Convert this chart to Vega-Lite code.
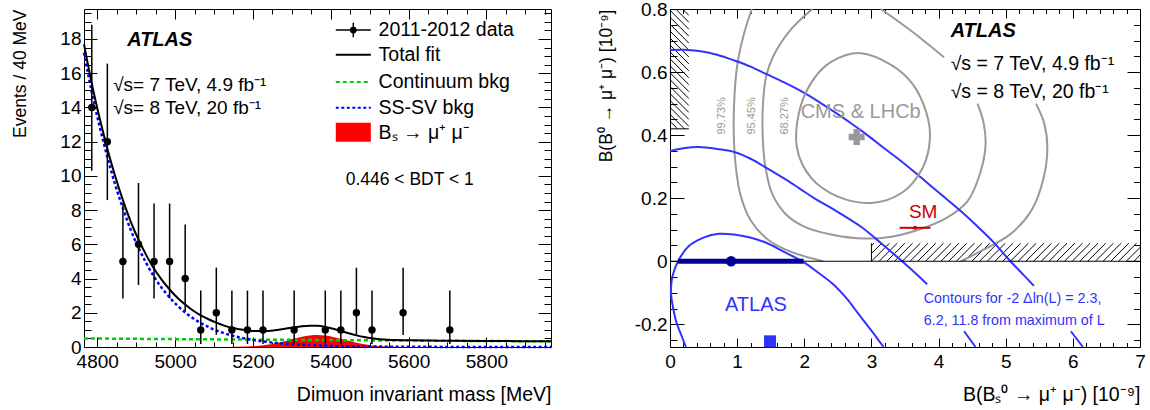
{
"$schema": "https://vega.github.io/schema/vega-lite/v6.json",
"padding": {"left": 11, "top": -1, "right": 5, "bottom": 5},
"background": "white",
"bounds": "flush",
"spacing": 119,
"config": {
  "font": "Liberation Sans",
  "view": {"stroke": "#000000", "strokeWidth": 1},
  "axis": {"domain": false, "grid": false, "ticks": true, "labelFont": "Liberation Sans", "titleFont": "Liberation Sans", "labelColor": "#000", "titleColor": "#000", "tickColor": "#000", "tickWidth": 1, "labelFontSize": 19, "titleFontSize": 19.5, "titleFontWeight": "normal", "labelFlush": false, "labelOverlap": false}
},
"datasets": {
  "fit": [
    {"mass":4766,"cont":0.5,"sssv":17.2,"signal":0,"total":17.7},
    {"mass":4786,"cont":0.497,"sssv":14.9,"signal":0,"total":15.4},
    {"mass":4806,"cont":0.493,"sssv":12.9,"signal":0,"total":13.39},
    {"mass":4826,"cont":0.49,"sssv":11.1,"signal":0,"total":11.59},
    {"mass":4846,"cont":0.486,"sssv":9.5,"signal":0,"total":9.99},
    {"mass":4866,"cont":0.483,"sssv":8.1,"signal":0,"total":8.58},
    {"mass":4886,"cont":0.48,"sssv":6.85,"signal":0,"total":7.33},
    {"mass":4906,"cont":0.476,"sssv":5.8,"signal":0,"total":6.28},
    {"mass":4926,"cont":0.473,"sssv":4.9,"signal":0,"total":5.37},
    {"mass":4946,"cont":0.47,"sssv":4.1,"signal":0,"total":4.57},
    {"mass":4966,"cont":0.467,"sssv":3.45,"signal":0,"total":3.92},
    {"mass":4986,"cont":0.463,"sssv":2.9,"signal":0,"total":3.36},
    {"mass":5006,"cont":0.46,"sssv":2.42,"signal":0,"total":2.88},
    {"mass":5026,"cont":0.457,"sssv":2.02,"signal":0,"total":2.48},
    {"mass":5046,"cont":0.454,"sssv":1.68,"signal":0,"total":2.13},
    {"mass":5066,"cont":0.451,"sssv":1.4,"signal":0,"total":1.85},
    {"mass":5086,"cont":0.448,"sssv":1.17,"signal":0,"total":1.62},
    {"mass":5106,"cont":0.445,"sssv":0.97,"signal":0,"total":1.42},
    {"mass":5126,"cont":0.442,"sssv":0.81,"signal":0,"total":1.25},
    {"mass":5146,"cont":0.439,"sssv":0.67,"signal":0.005,"total":1.12},
    {"mass":5166,"cont":0.436,"sssv":0.56,"signal":0.015,"total":1.04},
    {"mass":5186,"cont":0.433,"sssv":0.47,"signal":0.027,"total":0.97},
    {"mass":5206,"cont":0.43,"sssv":0.39,"signal":0.053,"total":0.93},
    {"mass":5226,"cont":0.427,"sssv":0.33,"signal":0.098,"total":0.935},
    {"mass":5246,"cont":0.424,"sssv":0.27,"signal":0.165,"total":0.95},
    {"mass":5266,"cont":0.421,"sssv":0.23,"signal":0.258,"total":1.01},
    {"mass":5286,"cont":0.418,"sssv":0.19,"signal":0.37,"total":1.08},
    {"mass":5306,"cont":0.415,"sssv":0.16,"signal":0.491,"total":1.156},
    {"mass":5326,"cont":0.413,"sssv":0.135,"signal":0.599,"total":1.217},
    {"mass":5346,"cont":0.41,"sssv":0.113,"signal":0.675,"total":1.248},
    {"mass":5366,"cont":0.407,"sssv":0.095,"signal":0.7,"total":1.237},
    {"mass":5386,"cont":0.404,"sssv":0.08,"signal":0.669,"total":1.173},
    {"mass":5406,"cont":0.401,"sssv":0.067,"signal":0.59,"total":1.068},
    {"mass":5426,"cont":0.398,"sssv":0.056,"signal":0.479,"total":0.933},
    {"mass":5446,"cont":0.396,"sssv":0.047,"signal":0.358,"total":0.801},
    {"mass":5466,"cont":0.393,"sssv":0.04,"signal":0.247,"total":0.68},
    {"mass":5486,"cont":0.39,"sssv":0.033,"signal":0.157,"total":0.58},
    {"mass":5506,"cont":0.387,"sssv":0.028,"signal":0.092,"total":0.507},
    {"mass":5526,"cont":0.385,"sssv":0.024,"signal":0.05,"total":0.459},
    {"mass":5546,"cont":0.382,"sssv":0.02,"signal":0.025,"total":0.427},
    {"mass":5566,"cont":0.379,"sssv":0.017,"signal":0.011,"total":0.407},
    {"mass":5586,"cont":0.377,"sssv":0.014,"signal":0.005,"total":0.396},
    {"mass":5606,"cont":0.374,"sssv":0.012,"signal":0.002,"total":0.388},
    {"mass":5656,"cont":0.368,"sssv":0.008,"signal":0,"total":0.376},
    {"mass":5706,"cont":0.362,"sssv":0.005,"signal":0,"total":0.367},
    {"mass":5806,"cont":0.35,"sssv":0.002,"signal":0,"total":0.352},
    {"mass":5966,"cont":0.331,"sssv":0.0005,"signal":0,"total":0.332}
  ],
  "obs": [
    {"mass":4786,"n":14,"lo":10.3,"hi":18.83},
    {"mass":4826,"n":12,"lo":8.585,"hi":16.56},
    {"mass":4866,"n":5,"lo":2.84,"hi":8.382},
    {"mass":4906,"n":6,"lo":3.62,"hi":9.584},
    {"mass":4946,"n":5,"lo":2.84,"hi":8.382},
    {"mass":4986,"n":5,"lo":2.84,"hi":8.382},
    {"mass":5026,"n":4,"lo":2.086,"hi":7.163},
    {"mass":5066,"n":1,"lo":0.173,"hi":3.3},
    {"mass":5106,"n":2,"lo":0.708,"hi":4.638},
    {"mass":5146,"n":1,"lo":0.173,"hi":3.3},
    {"mass":5186,"n":1,"lo":0.173,"hi":3.3},
    {"mass":5226,"n":1,"lo":0.173,"hi":3.3},
    {"mass":5306,"n":1,"lo":0.173,"hi":3.3},
    {"mass":5386,"n":1,"lo":0.173,"hi":3.3},
    {"mass":5426,"n":1,"lo":0.173,"hi":3.3},
    {"mass":5466,"n":2,"lo":0.708,"hi":4.638},
    {"mass":5506,"n":1,"lo":0.173,"hi":3.3},
    {"mass":5586,"n":2,"lo":0.708,"hi":4.638},
    {"mass":5706,"n":1,"lo":0.173,"hi":3.3}
  ],
  "cms": [
    {"seg":"g95a","ord":2,"bs":2.12,"bd":0.8},
    {"seg":"g95a","ord":3,"bs":1.78,"bd":0.73},
    {"seg":"g95a","ord":4,"bs":1.53,"bd":0.647},
    {"seg":"g95a","ord":5,"bs":1.43,"bd":0.584},
    {"seg":"g95a","ord":6,"bs":1.385,"bd":0.5},
    {"seg":"g95a","ord":7,"bs":1.38,"bd":0.4},
    {"seg":"g95a","ord":8,"bs":1.42,"bd":0.3},
    {"seg":"g95a","ord":9,"bs":1.52,"bd":0.215},
    {"seg":"g95a","ord":10,"bs":1.72,"bd":0.15},
    {"seg":"g95a","ord":11,"bs":2.0,"bd":0.11},
    {"seg":"g95a","ord":12,"bs":2.4,"bd":0.085},
    {"seg":"g95a","ord":13,"bs":2.9,"bd":0.072},
    {"seg":"g95a","ord":14,"bs":3.3,"bd":0.078},
    {"seg":"g95a","ord":15,"bs":3.7,"bd":0.1},
    {"seg":"g95a","ord":16,"bs":4.1,"bd":0.135},
    {"seg":"g95a","ord":17,"bs":4.43,"bd":0.19},
    {"seg":"g95a","ord":18,"bs":4.62,"bd":0.28},
    {"seg":"g95a","ord":19,"bs":4.7,"bd":0.37},
    {"seg":"g95a","ord":20,"bs":4.67,"bd":0.44},
    {"seg":"g95a","ord":21,"bs":4.58,"bd":0.5},
    {"seg":"g95b","ord":2,"bs":3.14,"bd":0.8},
    {"seg":"g95b","ord":3,"bs":3.59,"bd":0.731},
    {"seg":"g95b","ord":4,"bs":4.08,"bd":0.647},
    {"seg":"g99a","ord":1,"bs":1.22,"bd":0.8},
    {"seg":"g99a","ord":2,"bs":1.1,"bd":0.72},
    {"seg":"g99a","ord":3,"bs":1.0,"bd":0.62},
    {"seg":"g99a","ord":4,"bs":0.955,"bd":0.5},
    {"seg":"g99a","ord":5,"bs":0.95,"bd":0.4},
    {"seg":"g99a","ord":6,"bs":0.98,"bd":0.3},
    {"seg":"g99a","ord":7,"bs":1.05,"bd":0.21},
    {"seg":"g99a","ord":8,"bs":1.2,"bd":0.13},
    {"seg":"g99a","ord":9,"bs":1.45,"bd":0.07},
    {"seg":"g99a","ord":10,"bs":1.8,"bd":0.03},
    {"seg":"g99a","ord":11,"bs":2.28,"bd":0.0},
    {"seg":"g99b","ord":1,"bs":4.33,"bd":0.0},
    {"seg":"g99b","ord":2,"bs":4.63,"bd":0.032},
    {"seg":"g99b","ord":3,"bs":5.07,"bd":0.086},
    {"seg":"g99b","ord":4,"bs":5.38,"bd":0.16},
    {"seg":"g99b","ord":5,"bs":5.56,"bd":0.26},
    {"seg":"g99b","ord":6,"bs":5.62,"bd":0.36},
    {"seg":"g99b","ord":7,"bs":5.57,"bd":0.44},
    {"seg":"g99b","ord":8,"bs":5.45,"bd":0.5}
  ],
  "cms68": [
    {"ord":1,"bs":2.84,"bd":0.66},
    {"ord":2,"bs":3.3,"bd":0.622},
    {"ord":3,"bs":3.62,"bd":0.56},
    {"ord":4,"bs":3.82,"bd":0.47},
    {"ord":5,"bs":3.87,"bd":0.385},
    {"ord":6,"bs":3.76,"bd":0.295},
    {"ord":7,"bs":3.46,"bd":0.218},
    {"ord":8,"bs":3.0,"bd":0.185},
    {"ord":9,"bs":2.5,"bd":0.205},
    {"ord":10,"bs":2.1,"bd":0.265},
    {"ord":11,"bs":1.89,"bd":0.36},
    {"ord":12,"bs":1.92,"bd":0.47},
    {"ord":13,"bs":2.1,"bd":0.565},
    {"ord":14,"bs":2.4,"bd":0.632}
  ],
  "atlas": [
    {"seg":"b1","ord":2,"bs":0.238,"bd":-0.272},
    {"seg":"b1","ord":3,"bs":0.16,"bd":-0.23},
    {"seg":"b1","ord":4,"bs":0.09,"bd":-0.19},
    {"seg":"b1","ord":5,"bs":0.04,"bd":-0.14},
    {"seg":"b1","ord":6,"bs":0.015,"bd":-0.105},
    {"seg":"b1","ord":7,"bs":0.02,"bd":-0.07},
    {"seg":"b1","ord":8,"bs":0.045,"bd":-0.041},
    {"seg":"b1","ord":9,"bs":0.12,"bd":0.0},
    {"seg":"b1","ord":10,"bs":0.28,"bd":0.048},
    {"seg":"b1","ord":11,"bs":0.5,"bd":0.075},
    {"seg":"b1","ord":12,"bs":0.73,"bd":0.087},
    {"seg":"b1","ord":13,"bs":0.95,"bd":0.085},
    {"seg":"b1","ord":14,"bs":1.18,"bd":0.076},
    {"seg":"b1","ord":15,"bs":1.45,"bd":0.057},
    {"seg":"b1","ord":16,"bs":1.68,"bd":0.032},
    {"seg":"b1","ord":17,"bs":1.99,"bd":-0.003},
    {"seg":"b1","ord":18,"bs":2.2,"bd":-0.035},
    {"seg":"b1","ord":19,"bs":2.43,"bd":-0.073},
    {"seg":"b1","ord":20,"bs":2.63,"bd":-0.118},
    {"seg":"b1","ord":21,"bs":2.81,"bd":-0.168},
    {"seg":"b1","ord":22,"bs":3.0,"bd":-0.22},
    {"seg":"b1","ord":23,"bs":3.18,"bd":-0.272},
    {"seg":"b2a","ord":2,"bs":0.0,"bd":0.349},
    {"seg":"b2a","ord":3,"bs":0.2,"bd":0.358},
    {"seg":"b2a","ord":4,"bs":0.43,"bd":0.362},
    {"seg":"b2a","ord":5,"bs":0.7,"bd":0.356},
    {"seg":"b2a","ord":6,"bs":0.98,"bd":0.345},
    {"seg":"b2a","ord":7,"bs":1.2,"bd":0.325},
    {"seg":"b2a","ord":8,"bs":1.43,"bd":0.297},
    {"seg":"b2a","ord":9,"bs":1.68,"bd":0.265},
    {"seg":"b2a","ord":10,"bs":1.92,"bd":0.232},
    {"seg":"b2a","ord":11,"bs":2.17,"bd":0.197},
    {"seg":"b2a","ord":12,"bs":2.43,"bd":0.165},
    {"seg":"b2a","ord":13,"bs":2.84,"bd":0.11},
    {"seg":"b2a","ord":14,"bs":3.14,"bd":0.058},
    {"seg":"b2a","ord":15,"bs":3.44,"bd":0.003},
    {"seg":"b2a","ord":16,"bs":3.64,"bd":-0.035},
    {"seg":"b2a","ord":17,"bs":3.83,"bd":-0.073},
    {"seg":"b2b","ord":1,"bs":4.38,"bd":-0.222},
    {"seg":"b2b","ord":2,"bs":4.55,"bd":-0.272},
    {"seg":"b3a","ord":2,"bs":0.0,"bd":0.67},
    {"seg":"b3a","ord":3,"bs":0.2,"bd":0.671},
    {"seg":"b3a","ord":4,"bs":0.43,"bd":0.667},
    {"seg":"b3a","ord":5,"bs":0.7,"bd":0.655},
    {"seg":"b3a","ord":6,"bs":0.98,"bd":0.635},
    {"seg":"b3a","ord":7,"bs":1.2,"bd":0.617},
    {"seg":"b3a","ord":8,"bs":1.43,"bd":0.594},
    {"seg":"b3a","ord":9,"bs":1.7,"bd":0.567},
    {"seg":"b3a","ord":10,"bs":1.98,"bd":0.536},
    {"seg":"b3a","ord":11,"bs":2.2,"bd":0.508},
    {"seg":"b3a","ord":12,"bs":2.43,"bd":0.476},
    {"seg":"b3a","ord":13,"bs":2.68,"bd":0.44},
    {"seg":"b3a","ord":14,"bs":2.92,"bd":0.403},
    {"seg":"b3a","ord":15,"bs":3.18,"bd":0.36},
    {"seg":"b3a","ord":16,"bs":3.44,"bd":0.318},
    {"seg":"b3a","ord":17,"bs":3.73,"bd":0.267},
    {"seg":"b3a","ord":18,"bs":4.03,"bd":0.213},
    {"seg":"b3a","ord":19,"bs":4.33,"bd":0.159},
    {"seg":"b3a","ord":20,"bs":4.58,"bd":0.11},
    {"seg":"b3a","ord":21,"bs":4.82,"bd":0.06},
    {"seg":"b3a","ord":22,"bs":5.07,"bd":0.0},
    {"seg":"b3a","ord":23,"bs":5.25,"bd":-0.04},
    {"seg":"b3a","ord":24,"bs":5.42,"bd":-0.078},
    {"seg":"b3b","ord":1,"bs":5.97,"bd":-0.222},
    {"seg":"b3b","ord":2,"bs":6.15,"bd":-0.272}
  ],
  "hatch": [
    {"bs":0.187,"bd":0.8,"bs2":0.28,"bd2":0.78},
    {"bs":0.084,"bd":0.8,"bs2":0.28,"bd2":0.758},
    {"bs":0,"bd":0.796,"bs2":0.28,"bd2":0.736},
    {"bs":0,"bd":0.774,"bs2":0.28,"bd2":0.714},
    {"bs":0,"bd":0.752,"bs2":0.28,"bd2":0.692},
    {"bs":0,"bd":0.73,"bs2":0.28,"bd2":0.67},
    {"bs":0,"bd":0.708,"bs2":0.28,"bd2":0.648},
    {"bs":0,"bd":0.686,"bs2":0.28,"bd2":0.626},
    {"bs":0,"bd":0.664,"bs2":0.28,"bd2":0.604},
    {"bs":0,"bd":0.642,"bs2":0.28,"bd2":0.582},
    {"bs":0,"bd":0.62,"bs2":0.28,"bd2":0.56},
    {"bs":0,"bd":0.598,"bs2":0.28,"bd2":0.538},
    {"bs":0,"bd":0.576,"bs2":0.28,"bd2":0.516},
    {"bs":0,"bd":0.554,"bs2":0.28,"bd2":0.494},
    {"bs":0,"bd":0.532,"bs2":0.28,"bd2":0.472},
    {"bs":0,"bd":0.51,"bs2":0.28,"bd2":0.45},
    {"bs":0,"bd":0.488,"bs2":0.28,"bd2":0.428},
    {"bs":0,"bd":0.466,"bs2":0.215,"bd2":0.42},
    {"bs":0,"bd":0.444,"bs2":0.112,"bd2":0.42},
    {"bs":3,"bd":0.049,"bs2":3.038,"bd2":0.057},
    {"bs":3,"bd":0.0245,"bs2":3.153,"bd2":0.057},
    {"bs":3.0,"bd":0,"bs2":3.268,"bd2":0.057},
    {"bs":3.115,"bd":0,"bs2":3.383,"bd2":0.057},
    {"bs":3.23,"bd":0,"bs2":3.498,"bd2":0.057},
    {"bs":3.345,"bd":0,"bs2":3.613,"bd2":0.057},
    {"bs":3.46,"bd":0,"bs2":3.728,"bd2":0.057},
    {"bs":3.575,"bd":0,"bs2":3.843,"bd2":0.057},
    {"bs":3.69,"bd":0,"bs2":3.958,"bd2":0.057},
    {"bs":3.805,"bd":0,"bs2":4.073,"bd2":0.057},
    {"bs":3.92,"bd":0,"bs2":4.188,"bd2":0.057},
    {"bs":4.035,"bd":0,"bs2":4.303,"bd2":0.057},
    {"bs":4.15,"bd":0,"bs2":4.418,"bd2":0.057},
    {"bs":4.265,"bd":0,"bs2":4.533,"bd2":0.057},
    {"bs":4.38,"bd":0,"bs2":4.648,"bd2":0.057},
    {"bs":4.495,"bd":0,"bs2":4.763,"bd2":0.057},
    {"bs":4.61,"bd":0,"bs2":4.878,"bd2":0.057},
    {"bs":4.725,"bd":0,"bs2":4.993,"bd2":0.057},
    {"bs":4.84,"bd":0,"bs2":5.108,"bd2":0.057},
    {"bs":4.955,"bd":0,"bs2":5.223,"bd2":0.057},
    {"bs":5.07,"bd":0,"bs2":5.338,"bd2":0.057},
    {"bs":5.185,"bd":0,"bs2":5.453,"bd2":0.057},
    {"bs":5.3,"bd":0,"bs2":5.568,"bd2":0.057},
    {"bs":5.415,"bd":0,"bs2":5.683,"bd2":0.057},
    {"bs":5.53,"bd":0,"bs2":5.798,"bd2":0.057},
    {"bs":5.645,"bd":0,"bs2":5.913,"bd2":0.057},
    {"bs":5.76,"bd":0,"bs2":6.028,"bd2":0.057},
    {"bs":5.875,"bd":0,"bs2":6.143,"bd2":0.057},
    {"bs":5.99,"bd":0,"bs2":6.258,"bd2":0.057},
    {"bs":6.105,"bd":0,"bs2":6.373,"bd2":0.057},
    {"bs":6.22,"bd":0,"bs2":6.488,"bd2":0.057},
    {"bs":6.335,"bd":0,"bs2":6.603,"bd2":0.057},
    {"bs":6.45,"bd":0,"bs2":6.718,"bd2":0.057},
    {"bs":6.565,"bd":0,"bs2":6.833,"bd2":0.057},
    {"bs":6.68,"bd":0,"bs2":6.948,"bd2":0.057},
    {"bs":6.795,"bd":0,"bs2":7.0,"bd2":0.0436},
    {"bs":6.91,"bd":0,"bs2":7.0,"bd2":0.0191}
  ],
  "atlasfit": [{"bs":0.91,"bs_lo":0.12,"bs_hi":1.99,"bd":0}],
  "cmsfit": [{"bs":2.78,"bd":0.394}],
  "sm": [{"bs":3.65,"bs_lo":3.42,"bs_hi":3.88,"bd":0.106}],
  "atlasmark": [{"bs":1.49,"bd":-0.254}]
},
"hconcat": [
{
  "width": 467, "height": 338,
  "resolve": {"axis": {"x": "independent", "y": "independent"}},
  "layer": [
    {"data": {"name": "fit"},
     "mark": {"type": "area", "color": "#ff0000", "interpolate": "monotone"},
     "encoding": {
       "x": {"field": "mass", "type": "quantitative", "scale": {"domain": [4766, 5966], "nice": false, "zero": false},
             "axis": {"orient": "bottom", "values": [4800,4850,4900,4950,5000,5050,5100,5150,5200,5250,5300,5350,5400,5450,5500,5550,5600,5650,5700,5750,5800,5850,5900,5950], "ticks": true, "tickSize": 10, "offset": -10, "tickDash": {"condition": {"test": "datum.value % 200 !== 0", "value": [0, 5, 5, 20]}, "value": [10, 0]}, "labelPadding": 5, "labelExpr": "datum.value % 200 === 0 ? format(datum.value, 'd') : ''", "title": "Dimuon invariant mass [MeV]", "titleAnchor": "end", "titlePadding": 14}},
       "y": {"field": "signal", "type": "quantitative", "scale": {"domain": [0, 19.75], "nice": false, "zero": false},
             "axis": {"orient": "left", "values": [0,0.5,1,1.5,2,2.5,3,3.5,4,4.5,5,5.5,6,6.5,7,7.5,8,8.5,9,9.5,10,10.5,11,11.5,12,12.5,13,13.5,14,14.5,15,15.5,16,16.5,17,17.5,18,18.5,19,19.5], "ticks": true, "tickSize": 13, "offset": -13, "tickDash": {"condition": {"test": "datum.value % 2 !== 0", "value": [0, 6, 7, 20]}, "value": [13, 0]}, "labelPadding": 3, "labelExpr": "datum.value % 2 === 0 ? format(datum.value, 'd') : ''", "title": "Events / 40 MeV", "titleAnchor": "end", "titlePadding": 30, "titleFontSize": 17.5}}
     }},
    {"data": {"name": "fit"},
     "mark": {"type": "line", "color": "#00cc00", "strokeWidth": 2.5, "strokeDash": [4, 3], "interpolate": "monotone"},
     "encoding": {
       "x": {"field": "mass", "type": "quantitative", "scale": {"domain": [4766, 5966], "nice": false, "zero": false},
             "axis": {"orient": "top", "values": [4800,4850,4900,4950,5000,5050,5100,5150,5200,5250,5300,5350,5400,5450,5500,5550,5600,5650,5700,5750,5800,5850,5900,5950], "labels": false, "ticks": true, "tickSize": 10, "offset": -10, "tickDash": {"condition": {"test": "datum.value % 200 !== 0", "value": [0, 5, 5, 20]}, "value": [10, 0]}, "title": null}},
       "y": {"field": "cont", "type": "quantitative", "scale": {"domain": [0, 19.75], "nice": false, "zero": false},
             "axis": {"orient": "right", "values": [0,0.5,1,1.5,2,2.5,3,3.5,4,4.5,5,5.5,6,6.5,7,7.5,8,8.5,9,9.5,10,10.5,11,11.5,12,12.5,13,13.5,14,14.5,15,15.5,16,16.5,17,17.5,18,18.5,19,19.5], "labels": false, "ticks": true, "tickSize": 13, "offset": -13, "tickDash": {"condition": {"test": "datum.value % 2 !== 0", "value": [0, 6, 7, 20]}, "value": [13, 0]}, "title": null}}
     }},
    {"data": {"name": "fit"},
     "mark": {"type": "line", "color": "#0000ff", "strokeWidth": 2.5, "strokeDash": [3, 2.5], "interpolate": "monotone"},
     "encoding": {
       "x": {"field": "mass", "type": "quantitative", "axis": null},
       "y": {"field": "sssv", "type": "quantitative", "axis": null}
     }},
    {"data": {"name": "fit"},
     "mark": {"type": "line", "color": "#000000", "strokeWidth": 2, "interpolate": "monotone"},
     "encoding": {
       "x": {"field": "mass", "type": "quantitative", "axis": null},
       "y": {"field": "total", "type": "quantitative", "axis": null}
     }},
    {"data": {"name": "obs"},
     "mark": {"type": "rule", "color": "#000000", "strokeWidth": 1.5},
     "encoding": {
       "x": {"field": "mass", "type": "quantitative", "axis": null},
       "y": {"field": "lo", "type": "quantitative", "axis": null},
       "y2": {"field": "hi"}
     }},
    {"data": {"name": "obs"},
     "mark": {"type": "point", "shape": "circle", "filled": true, "color": "#000000", "size": 55, "opacity": 1},
     "encoding": {
       "x": {"field": "mass", "type": "quantitative", "axis": null},
       "y": {"field": "n", "type": "quantitative", "axis": null}
     }},
    {"data": {"values": [{}]}, "mark": {"type": "rule", "color": "#000", "strokeWidth": 1.5},
     "encoding": {"x": {"datum": 5413, "type": "quantitative", "axis": null}, "x2": {"datum": 5503}, "y": {"datum": 18.52, "type": "quantitative", "axis": null}}},
    {"data": {"values": [{}]}, "mark": {"type": "rule", "color": "#000", "strokeWidth": 1.5},
     "encoding": {"x": {"datum": 5458, "type": "quantitative", "axis": null}, "y": {"datum": 18.1, "type": "quantitative", "axis": null}, "y2": {"datum": 18.95}}},
    {"data": {"values": [{}]}, "mark": {"type": "point", "shape": "circle", "filled": true, "color": "#000", "size": 45, "opacity": 1},
     "encoding": {"x": {"datum": 5458, "type": "quantitative", "axis": null}, "y": {"datum": 18.52, "type": "quantitative", "axis": null}}},
    {"data": {"values": [{}]}, "mark": {"type": "rule", "color": "#000", "strokeWidth": 2},
     "encoding": {"x": {"datum": 5413, "type": "quantitative", "axis": null}, "x2": {"datum": 5503}, "y": {"datum": 17.07, "type": "quantitative", "axis": null}}},
    {"data": {"values": [{}]}, "mark": {"type": "rule", "color": "#00cc00", "strokeWidth": 2, "strokeDash": [4, 3]},
     "encoding": {"x": {"datum": 5413, "type": "quantitative", "axis": null}, "x2": {"datum": 5503}, "y": {"datum": 15.49, "type": "quantitative", "axis": null}}},
    {"data": {"values": [{}]}, "mark": {"type": "rule", "color": "#0000ff", "strokeWidth": 2, "strokeDash": [3, 2.5]},
     "encoding": {"x": {"datum": 5413, "type": "quantitative", "axis": null}, "x2": {"datum": 5503}, "y": {"datum": 13.98, "type": "quantitative", "axis": null}}},
    {"data": {"values": [{}]}, "mark": {"type": "rect", "color": "#ff0000"},
     "encoding": {"x": {"datum": 5413, "type": "quantitative", "axis": null}, "x2": {"datum": 5503}, "y": {"datum": 13.1, "type": "quantitative", "axis": null}, "y2": {"datum": 12.0}}},
    {"data": {"values": [{}]}, "mark": {"type": "text", "text": "2011-2012 data", "align": "left", "baseline": "middle", "fontSize": 19.5, "color": "#000"},
     "encoding": {"x": {"datum": 5523, "type": "quantitative", "axis": null}, "y": {"datum": 18.52, "type": "quantitative", "axis": null}}},
    {"data": {"values": [{}]}, "mark": {"type": "text", "text": "Total fit", "align": "left", "baseline": "middle", "fontSize": 19.5, "color": "#000"},
     "encoding": {"x": {"datum": 5523, "type": "quantitative", "axis": null}, "y": {"datum": 17.07, "type": "quantitative", "axis": null}}},
    {"data": {"values": [{}]}, "mark": {"type": "text", "text": "Continuum bkg", "align": "left", "baseline": "middle", "fontSize": 19.5, "color": "#000"},
     "encoding": {"x": {"datum": 5523, "type": "quantitative", "axis": null}, "y": {"datum": 15.49, "type": "quantitative", "axis": null}}},
    {"data": {"values": [{}]}, "mark": {"type": "text", "text": "SS-SV bkg", "align": "left", "baseline": "middle", "fontSize": 19.5, "color": "#000"},
     "encoding": {"x": {"datum": 5523, "type": "quantitative", "axis": null}, "y": {"datum": 13.98, "type": "quantitative", "axis": null}}},
    {"data": {"values": [{}]}, "mark": {"type": "text", "text": "Bₛ → μ⁺ μ⁻", "align": "left", "baseline": "middle", "fontSize": 19.5, "color": "#000"},
     "encoding": {"x": {"datum": 5523, "type": "quantitative", "axis": null}, "y": {"datum": 12.52, "type": "quantitative", "axis": null}}},
    {"data": {"values": [{}]}, "mark": {"type": "text", "text": "0.446 < BDT < 1", "align": "center", "baseline": "middle", "fontSize": 17.5, "color": "#000"},
     "encoding": {"x": {"datum": 5603, "type": "quantitative", "axis": null}, "y": {"datum": 9.77, "type": "quantitative", "axis": null}}},
    {"data": {"values": [{}]}, "mark": {"type": "text", "text": "ATLAS", "align": "left", "baseline": "middle", "fontSize": 20, "fontWeight": "bold", "fontStyle": "italic", "color": "#000"},
     "encoding": {"x": {"datum": 4877, "type": "quantitative", "axis": null}, "y": {"datum": 17.94, "type": "quantitative", "axis": null}}},
    {"data": {"values": [{}]}, "mark": {"type": "text", "text": "√s= 7 TeV, 4.9 fb⁻¹", "align": "left", "baseline": "middle", "fontSize": 19, "color": "#000"},
     "encoding": {"x": {"datum": 4841, "type": "quantitative", "axis": null}, "y": {"datum": 15.32, "type": "quantitative", "axis": null}}},
    {"data": {"values": [{}]}, "mark": {"type": "text", "text": "√s= 8 TeV, 20 fb⁻¹", "align": "left", "baseline": "middle", "fontSize": 19, "color": "#000"},
     "encoding": {"x": {"datum": 4841, "type": "quantitative", "axis": null}, "y": {"datum": 13.96, "type": "quantitative", "axis": null}}}
  ]
},
{
  "width": 470, "height": 338,
  "resolve": {"axis": {"x": "independent", "y": "independent"}},
  "layer": [
    {"data": {"name": "hatch"},
     "mark": {"type": "rule", "color": "#000000", "strokeWidth": 1},
     "encoding": {
       "x": {"field": "bs", "type": "quantitative", "scale": {"domain": [0, 7], "nice": false, "zero": false},
             "axis": {"orient": "bottom", "values": [0,0.2,0.4,0.6,0.8,1,1.2,1.4,1.6,1.8,2,2.2,2.4,2.6,2.8,3,3.2,3.4,3.6,3.8,4,4.2,4.4,4.6,4.8,5,5.2,5.4,5.6,5.8,6,6.2,6.4,6.6,6.8,7], "ticks": true, "tickSize": 9, "offset": -9, "tickDash": {"condition": {"test": "abs(datum.value - round(datum.value)) > 0.001", "value": [0, 4.5, 4.5, 20]}, "value": [9, 0]}, "labelPadding": 5, "labelExpr": "abs(datum.value - round(datum.value)) < 0.001 ? format(datum.value, 'd') : ''", "title": "B(Bₛ⁰ → μ⁺ μ⁻) [10⁻⁹]", "titleAnchor": "end", "titlePadding": 14}},
       "y": {"field": "bd", "type": "quantitative", "scale": {"domain": [-0.272, 0.8], "nice": false, "zero": false},
             "axis": {"orient": "left", "values": [-0.25,-0.2,-0.15,-0.1,-0.05,0,0.05,0.1,0.15,0.2,0.25,0.3,0.35,0.4,0.45,0.5,0.55,0.6,0.65,0.7,0.75,0.8], "ticks": true, "tickSize": 14, "offset": -14, "tickDash": {"condition": {"test": "abs(datum.value * 5 - round(datum.value * 5)) > 0.001", "value": [0, 7, 7, 30]}, "value": [14, 0]}, "labelPadding": 3, "labelExpr": "abs(datum.value * 5 - round(datum.value * 5)) < 0.001 ? replace(format(datum.value, '.1~f'), '\u2212', '-') : ''", "title": "B(B⁰ → μ⁺ μ⁻) [10⁻⁹]", "titleAnchor": "end", "titlePadding": 19, "titleFontSize": 17.5}},
       "x2": {"field": "bs2"},
       "y2": {"field": "bd2"}
     }},
    {"data": {"name": "cms"},
     "mark": {"type": "line", "color": "#999999", "strokeWidth": 2, "interpolate": "catmull-rom"},
     "encoding": {
       "x": {"field": "bs", "type": "quantitative", "scale": {"domain": [0, 7], "nice": false, "zero": false},
             "axis": {"orient": "top", "values": [0,0.2,0.4,0.6,0.8,1,1.2,1.4,1.6,1.8,2,2.2,2.4,2.6,2.8,3,3.2,3.4,3.6,3.8,4,4.2,4.4,4.6,4.8,5,5.2,5.4,5.6,5.8,6,6.2,6.4,6.6,6.8,7], "labels": false, "ticks": true, "tickSize": 9, "offset": -9, "tickDash": {"condition": {"test": "abs(datum.value - round(datum.value)) > 0.001", "value": [0, 4.5, 4.5, 20]}, "value": [9, 0]}, "title": null}},
       "y": {"field": "bd", "type": "quantitative", "scale": {"domain": [-0.272, 0.8], "nice": false, "zero": false},
             "axis": {"orient": "right", "values": [-0.25,-0.2,-0.15,-0.1,-0.05,0,0.05,0.1,0.15,0.2,0.25,0.3,0.35,0.4,0.45,0.5,0.55,0.6,0.65,0.7,0.75,0.8], "labels": false, "ticks": true, "tickSize": 13, "offset": -13, "tickDash": {"condition": {"test": "abs(datum.value * 5 - round(datum.value * 5)) > 0.001", "value": [0, 6.5, 6.5, 30]}, "value": [13, 0]}, "title": null}},
       "detail": {"field": "seg"},
       "order": {"field": "ord"}
     }},
    {"data": {"name": "atlas"},
     "mark": {"type": "line", "color": "#3232ff", "strokeWidth": 2, "interpolate": "catmull-rom"},
     "encoding": {
       "x": {"field": "bs", "type": "quantitative", "axis": null},
       "y": {"field": "bd", "type": "quantitative", "axis": null},
       "detail": {"field": "seg"},
       "order": {"field": "ord"}
     }},
    {"data": {"name": "cms68"},
     "mark": {"type": "line", "color": "#999999", "strokeWidth": 2, "interpolate": "cardinal-closed"},
     "encoding": {
       "x": {"field": "bs", "type": "quantitative", "axis": null},
       "y": {"field": "bd", "type": "quantitative", "axis": null},
       "order": {"field": "ord"}
     }},
    {"data": {"values": [{}]}, "mark": {"type": "rule", "color": "#000", "strokeWidth": 1},
     "encoding": {"y": {"datum": 0, "type": "quantitative", "axis": null}}},
    {"data": {"values": [{}]}, "mark": {"type": "rule", "color": "#000", "strokeWidth": 1},
     "encoding": {"x": {"datum": 0, "type": "quantitative", "axis": null}, "x2": {"datum": 0.28}, "y": {"datum": 0.42, "type": "quantitative", "axis": null}}},
    {"data": {"values": [{}]}, "mark": {"type": "rule", "color": "#000", "strokeWidth": 1},
     "encoding": {"x": {"datum": 3, "type": "quantitative", "axis": null}, "y": {"datum": 0, "type": "quantitative", "axis": null}, "y2": {"datum": 0.057}}},
    {"data": {"name": "atlasfit"},
     "mark": {"type": "rule", "color": "#000099", "strokeWidth": 5},
     "encoding": {
       "x": {"field": "bs_lo", "type": "quantitative", "axis": null},
       "x2": {"field": "bs_hi"},
       "y": {"field": "bd", "type": "quantitative", "axis": null}
     }},
    {"data": {"name": "atlasfit"},
     "mark": {"type": "point", "shape": "circle", "filled": true, "color": "#000099", "size": 110, "opacity": 1},
     "encoding": {
       "x": {"field": "bs", "type": "quantitative", "axis": null},
       "y": {"field": "bd", "type": "quantitative", "axis": null}
     }},
    {"data": {"name": "atlasmark"},
     "mark": {"type": "point", "shape": "square", "filled": true, "color": "#3232ff", "size": 144, "opacity": 1},
     "encoding": {"x": {"field": "bs", "type": "quantitative", "axis": null}, "y": {"field": "bd", "type": "quantitative", "axis": null}}},
    {"data": {"name": "cmsfit"},
     "mark": {"type": "point", "shape": "cross", "filled": true, "color": "#999999", "size": 256, "opacity": 1},
     "encoding": {"x": {"field": "bs", "type": "quantitative", "axis": null}, "y": {"field": "bd", "type": "quantitative", "axis": null}}},
    {"data": {"name": "sm"},
     "mark": {"type": "rule", "color": "#cc0000", "strokeWidth": 2},
     "encoding": {"x": {"field": "bs_lo", "type": "quantitative", "axis": null}, "x2": {"field": "bs_hi"}, "y": {"field": "bd", "type": "quantitative", "axis": null}}},
    {"data": {"name": "sm"},
     "mark": {"type": "point", "shape": "circle", "filled": true, "color": "#cc0000", "size": 16, "opacity": 1},
     "encoding": {"x": {"field": "bs", "type": "quantitative", "axis": null}, "y": {"field": "bd", "type": "quantitative", "axis": null}}},
    {"data": {"values": [{}]}, "mark": {"type": "text", "text": "ATLAS", "align": "left", "baseline": "middle", "fontSize": 20, "fontWeight": "bold", "fontStyle": "italic", "color": "#000"},
     "encoding": {"x": {"datum": 4.18, "type": "quantitative", "axis": null}, "y": {"datum": 0.73, "type": "quantitative", "axis": null}}},
    {"data": {"values": [{}]}, "mark": {"type": "text", "text": "√s = 7 TeV, 4.9 fb⁻¹", "align": "left", "baseline": "middle", "fontSize": 19.5, "color": "#000"},
     "encoding": {"x": {"datum": 4.18, "type": "quantitative", "axis": null}, "y": {"datum": 0.625, "type": "quantitative", "axis": null}}},
    {"data": {"values": [{}]}, "mark": {"type": "text", "text": "√s = 8 TeV, 20 fb⁻¹", "align": "left", "baseline": "middle", "fontSize": 19.5, "color": "#000"},
     "encoding": {"x": {"datum": 4.18, "type": "quantitative", "axis": null}, "y": {"datum": 0.537, "type": "quantitative", "axis": null}}},
    {"data": {"values": [{}]}, "mark": {"type": "text", "text": "CMS & LHCb", "align": "center", "baseline": "middle", "fontSize": 20, "color": "#999999"},
     "encoding": {"x": {"datum": 2.84, "type": "quantitative", "axis": null}, "y": {"datum": 0.473, "type": "quantitative", "axis": null}}},
    {"data": {"values": [{}]}, "mark": {"type": "text", "text": "SM", "align": "center", "baseline": "middle", "fontSize": 19, "color": "#cc0000"},
     "encoding": {"x": {"datum": 3.77, "type": "quantitative", "axis": null}, "y": {"datum": 0.156, "type": "quantitative", "axis": null}}},
    {"data": {"values": [{}]}, "mark": {"type": "text", "text": "ATLAS", "align": "center", "baseline": "middle", "fontSize": 20, "color": "#3232ff"},
     "encoding": {"x": {"datum": 1.28, "type": "quantitative", "axis": null}, "y": {"datum": -0.14, "type": "quantitative", "axis": null}}},
    {"data": {"values": [{}]}, "mark": {"type": "text", "text": "Contours for -2 Δln(L) = 2.3,", "align": "left", "baseline": "middle", "fontSize": 14.3, "color": "#3232ff"},
     "encoding": {"x": {"datum": 3.78, "type": "quantitative", "axis": null}, "y": {"datum": -0.121, "type": "quantitative", "axis": null}}},
    {"data": {"values": [{}]}, "mark": {"type": "text", "text": "6.2, 11.8 from maximum of L", "align": "left", "baseline": "middle", "fontSize": 14.3, "color": "#3232ff"},
     "encoding": {"x": {"datum": 3.78, "type": "quantitative", "axis": null}, "y": {"datum": -0.19, "type": "quantitative", "axis": null}}},
    {"data": {"values": [{}]}, "mark": {"type": "text", "text": "99.73%", "align": "center", "baseline": "middle", "angle": 270, "fontSize": 11, "color": "#999999"},
     "encoding": {"x": {"datum": 0.78, "type": "quantitative", "axis": null}, "y": {"datum": 0.461, "type": "quantitative", "axis": null}}},
    {"data": {"values": [{}]}, "mark": {"type": "text", "text": "95.45%", "align": "center", "baseline": "middle", "angle": 270, "fontSize": 11, "color": "#999999"},
     "encoding": {"x": {"datum": 1.22, "type": "quantitative", "axis": null}, "y": {"datum": 0.461, "type": "quantitative", "axis": null}}},
    {"data": {"values": [{}]}, "mark": {"type": "text", "text": "68.27%", "align": "center", "baseline": "middle", "angle": 270, "fontSize": 11, "color": "#999999"},
     "encoding": {"x": {"datum": 1.716, "type": "quantitative", "axis": null}, "y": {"datum": 0.461, "type": "quantitative", "axis": null}}}
  ]
}
]
}
